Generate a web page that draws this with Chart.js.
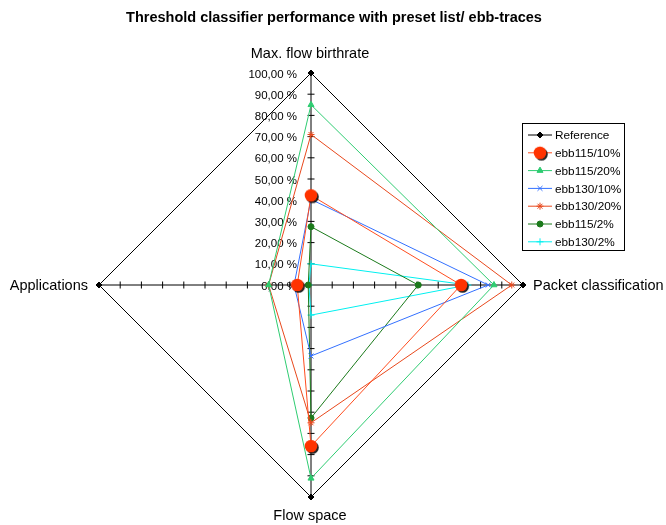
<!DOCTYPE html>
<html>
<head>
<meta charset="utf-8">
<title>Threshold classifier performance</title>
<script src="https://cdn.jsdelivr.net/npm/chart.js@4.4.1/dist/chart.umd.min.js"></script>
<style>
  html, body { margin: 0; padding: 0; background: #fff; }
  #wrap { position: relative; width: 666px; height: 525px; }
</style>
</head>
<body>
<div id="wrap"><canvas id="radar"></canvas></div>
<script>
// axes, clockwise from the top
const axisLabels = ['Max. flow birthrate', 'Packet classification', 'Flow space', 'Applications'];

const tickValues = [0, 10, 20, 30, 40, 50, 60, 70, 80, 90, 100];
const tickLabels = ['0,00 %', '10,00 %', '20,00 %', '30,00 %', '40,00 %', '50,00 %',
  '60,00 %', '70,00 %', '80,00 %', '90,00 %', '100,00 %'];

const seriesNames = ['Reference', 'ebb115/10%', 'ebb115/20%', 'ebb130/10%', 'ebb130/20%', 'ebb115/2%', 'ebb130/2%'];

const reference = [100, 100, 100, 100];
const ebb115_10 = [42.3, 70.8, 76, 6.5];
const ebb115_20 = [85, 86.3, 91.2, 20];
const ebb130_10 = [40.4, 83.6, 33.5, 8];
const ebb130_20 = [71, 94.7, 65, 20];
const ebb115_2 = [27.5, 50.6, 62.7, 1.3];
const ebb130_2 = [10, 74, 14.2, 1];

const FONT = '"Liberation Sans", Arial, Helvetica, sans-serif';

// big red dot with a dark drop shadow
function shadowDot() {
  const c = document.createElement('canvas');
  c.width = 20;
  c.height = 20;
  const g = c.getContext('2d');
  g.fillStyle = 'rgba(0,0,0,0.85)';
  g.beginPath();
  g.arc(11.5, 11.5, 6.3, 0, Math.PI * 2);
  g.fill();
  g.fillStyle = '#ff3300';
  g.beginPath();
  g.arc(10, 10, 6.3, 0, Math.PI * 2);
  g.fill();
  return c;
}
const redDot = shadowDot();

function series(label, data, color, pointStyle, radius, pointColor) {
  return {
    label,
    data,
    borderColor: color,
    backgroundColor: pointColor || color,
    pointBackgroundColor: pointColor || color,
    pointBorderColor: pointColor || color,
    borderWidth: 1,
    pointBorderWidth: 1,
    pointStyle,
    pointRadius: radius,
    fill: false,
    tension: 0,
  };
}

const datasets = [
  series(seriesNames[0], reference, '#000000', 'rectRot', 3),
  series(seriesNames[1], ebb115_10, '#ff4d1f', redDot, 7, '#ff3300'),
  series(seriesNames[2], ebb115_20, '#2ecc71', 'triangle', 3.5),
  series(seriesNames[3], ebb130_10, '#3370ff', 'crossRot', 3.5),
  series(seriesNames[4], ebb130_20, '#e8481c', 'star', 3.5),
  series(seriesNames[5], ebb115_2, '#1b7a1b', 'circle', 3),
  series(seriesNames[6], ebb130_2, '#00f0f0', 'cross', 3.5),
];

const decor = {
  id: 'decor',
  beforeDatasetsDraw(chart) {
    const { ctx } = chart;
    const r = chart.scales.r;
    const cx = r.xCenter;
    const cy = r.yCenter;

    ctx.save();
    // small tick marks across every axis
    ctx.strokeStyle = '#000';
    ctx.lineWidth = 1;
    axisLabels.forEach((_, i) => {
      tickValues.forEach((v) => {
        if (v === 0 || v === 100) return;
        const d = r.getDistanceFromCenterForValue(v);
        const p = r.getPointPosition(i, d);
        const ux = (p.x - cx) / d;
        const uy = (p.y - cy) / d;
        ctx.beginPath();
        ctx.moveTo(p.x - uy * 3.5, p.y + ux * 3.5);
        ctx.lineTo(p.x + uy * 3.5, p.y - ux * 3.5);
        ctx.stroke();
      });
    });

    // value labels along the top axis
    ctx.fillStyle = '#000';
    ctx.font = '11.5px ' + FONT;
    ctx.textAlign = 'right';
    ctx.textBaseline = 'middle';
    tickValues.forEach((v, k) => {
      const d = r.getDistanceFromCenterForValue(v);
      ctx.fillText(tickLabels[k], cx - 14, cy - d + 1.5);
    });

    // axis names
    ctx.font = '14.5px ' + FONT;
    axisLabels.forEach((name, i) => {
      const p = r.getPointPosition(i, r.drawingArea + 10);
      const dx = p.x - cx;
      const dy = p.y - cy;
      if (Math.abs(dx) < 1) {
        ctx.textAlign = 'center';
        ctx.textBaseline = dy < 0 ? 'bottom' : 'top';
        ctx.fillText(name, p.x - 1, dy < 0 ? p.y - 2 : p.y + 2);
      } else {
        ctx.textAlign = dx > 0 ? 'left' : 'right';
        ctx.textBaseline = 'middle';
        ctx.fillText(name, dx > 0 ? p.x : p.x - 1, p.y + 1);
      }
    });
    ctx.restore();
  },
  afterDraw(chart) {
    const { ctx } = chart;
    ctx.save();

    ctx.fillStyle = '#000';
    ctx.font = 'bold 14.5px ' + FONT;
    ctx.textAlign = 'center';
    ctx.textBaseline = 'middle';
    ctx.fillText('Threshold classifier performance with preset list/ ebb-traces', 334, 18);

    // legend box
    ctx.strokeStyle = '#000';
    ctx.lineWidth = 1;
    ctx.strokeRect(522.5, 123.5, 102, 127);
    ctx.font = '11.8px ' + FONT;
    ctx.textAlign = 'left';
    chart.data.datasets.forEach((ds, i) => {
      const y = 135 + i * 17.8;
      ctx.strokeStyle = ds.borderColor;
      ctx.beginPath();
      ctx.moveTo(528, y);
      ctx.lineTo(552, y);
      ctx.stroke();
      ctx.fillStyle = ds.pointBackgroundColor;
      if (Chart.helpers && Chart.helpers.drawPoint) {
        Chart.helpers.drawPoint(ctx, {
          pointStyle: ds.pointStyle,
          radius: ds.pointRadius,
          rotation: 0,
          borderWidth: 1,
        }, 540, y);
      }
      ctx.fillStyle = '#000';
      ctx.fillText(ds.label, 555, y + 1);
    });
    ctx.restore();
  },
};

new Chart(document.getElementById('radar'), {
  type: 'radar',
  data: { labels: axisLabels, datasets },
  options: {
    responsive: true,
    maintainAspectRatio: false,
    animation: false,
    events: [],
    layout: { padding: { left: 99, right: 143, top: 73, bottom: 28 } },
    plugins: {
      legend: { display: false },
      title: { display: false },
      tooltip: { enabled: false },
    },
    elements: { line: { borderWidth: 1 } },
    scales: {
      r: {
        min: 0,
        max: 100,
        ticks: { display: false, stepSize: 10 },
        grid: { display: false },
        angleLines: { display: true, color: '#000', lineWidth: 1 },
        pointLabels: { display: false },
      },
    },
  },
  plugins: [decor],
});
</script>
</body>
</html>
